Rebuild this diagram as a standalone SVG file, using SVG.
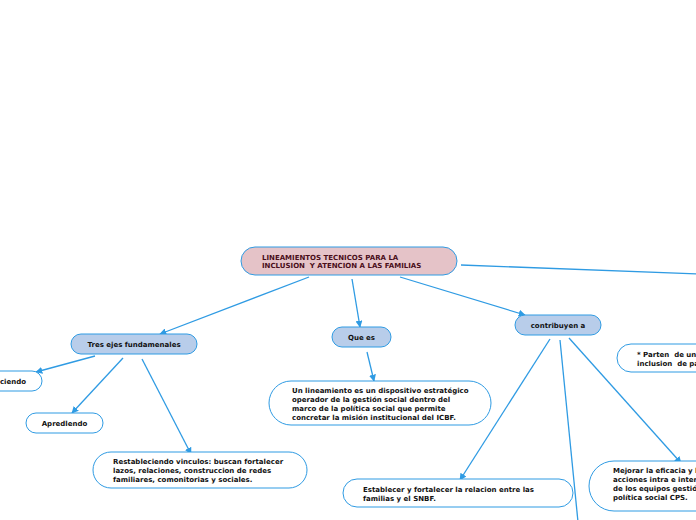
<svg xmlns="http://www.w3.org/2000/svg" width="696" height="520" viewBox="0 0 696 520" xml:space="preserve">
<style>
.n{fill:#fff;stroke:#2f9be3;stroke-width:1}
.b{fill:#b8cdea}
.r{fill:#e5c3c8}
text{font-family:"DejaVu Sans",Verdana,sans-serif;font-weight:bold;font-size:7px;fill:#111;white-space:pre}
.t{fill:#4a0e1a}
.c{text-anchor:middle}
.e{stroke:#2f9be3;stroke-width:1.3;fill:none;marker-end:url(#a)}
</style>
<defs>
<marker id="a" viewBox="0 0 10 10" refX="9" refY="5" markerWidth="7" markerHeight="7" orient="auto" markerUnits="userSpaceOnUse">
<path d="M0,0 L10,5 L0,10 z" fill="#2f9be3"/>
</marker>
</defs>
<rect width="696" height="520" fill="#fff"/>
<g id="connectors">
<line class="e" x1="309" y1="277" x2="160" y2="334"/>
<line class="e" x1="352" y1="279" x2="360" y2="327"/>
<line class="e" x1="400" y1="277" x2="525" y2="315"/>
<line x1="461" y1="265" x2="700" y2="274" stroke="#2f9be3" stroke-width="1.3"/>
<line class="e" x1="95" y1="356" x2="36" y2="372"/>
<line class="e" x1="123" y1="358" x2="72" y2="413"/>
<line class="e" x1="142" y1="359" x2="191" y2="454"/>
<line class="e" x1="367" y1="352" x2="374" y2="381"/>
<line class="e" x1="550" y1="339" x2="460" y2="480"/>
<line x1="560" y1="340" x2="578" y2="522" stroke="#2f9be3" stroke-width="1.3"/>
<line class="e" x1="569" y1="338" x2="681" y2="463"/>
</g>
<g id="root">
<rect class="n r" x="241" y="247" width="216" height="28" rx="14"/>
<text class="t" x="262" y="260">LINEAMIENTOS TECNICOS PARA LA</text>
<text class="t" x="262" y="268">INCLUSION  Y ATENCION A LAS FAMILIAS</text>
</g>
<g id="tres">
<rect class="n b" x="71" y="334" width="126" height="20" rx="10"/>
<text class="c" x="134" y="347">Tres ejes fundamenales</text>
</g>
<g id="ciendo">
<rect class="n" x="-40" y="371" width="82" height="20" rx="10"/>
<text x="26" y="384" text-anchor="end">ciendo</text>
</g>
<g id="apre">
<rect class="n" x="26" y="413" width="77" height="20" rx="10"/>
<text class="c" x="64.5" y="426">Apredlendo</text>
</g>
<g id="rest">
<rect class="n" x="93" y="452" width="214" height="36" rx="18"/>
<text x="113" y="464">Restableciendo vinculos: buscan fortalecer</text>
<text x="113" y="473">lazos, relaciones, construccion de redes</text>
<text x="113" y="482">familiares, comonitorias y sociales.</text>
</g>
<g id="quees">
<rect class="n b" x="332" y="327" width="59" height="20" rx="10"/>
<text class="c" x="361.5" y="340">Que es</text>
</g>
<g id="unlin">
<rect class="n" x="269" y="381" width="222" height="44" rx="22"/>
<text x="292" y="393">Un lineamiento es un dispositivo estratégico</text>
<text x="292" y="402">operador de la gestión social dentro del</text>
<text x="292" y="411">marco de la política social que permite</text>
<text x="292" y="420">concretar la misión institucional del ICBF.</text>
</g>
<g id="contrib">
<rect class="n b" x="515" y="315" width="86" height="20" rx="10"/>
<text class="c" x="558" y="328">contribuyen a</text>
</g>
<g id="parten">
<rect class="n" x="617" y="344" width="120" height="28" rx="14"/>
<text x="637" y="357">* Parten  de un</text>
<text x="637" y="366">inclusion  de pa</text>
</g>
<g id="estab">
<rect class="n" x="343" y="479" width="230" height="28" rx="14"/>
<text x="363" y="492">Establecer y fortalecer la relacion entre las</text>
<text x="363" y="501">familias y el SNBF.</text>
</g>
<g id="mejorar">
<rect class="n" x="589" y="461" width="160" height="50" rx="25"/>
<text x="613" y="473">Mejorar la eficacia y l</text>
<text x="613" y="482">acciones intra e inter</text>
<text x="613" y="491">de los equipos gestió</text>
<text x="613" y="500">política social CPS.</text>
</g>
</svg>
